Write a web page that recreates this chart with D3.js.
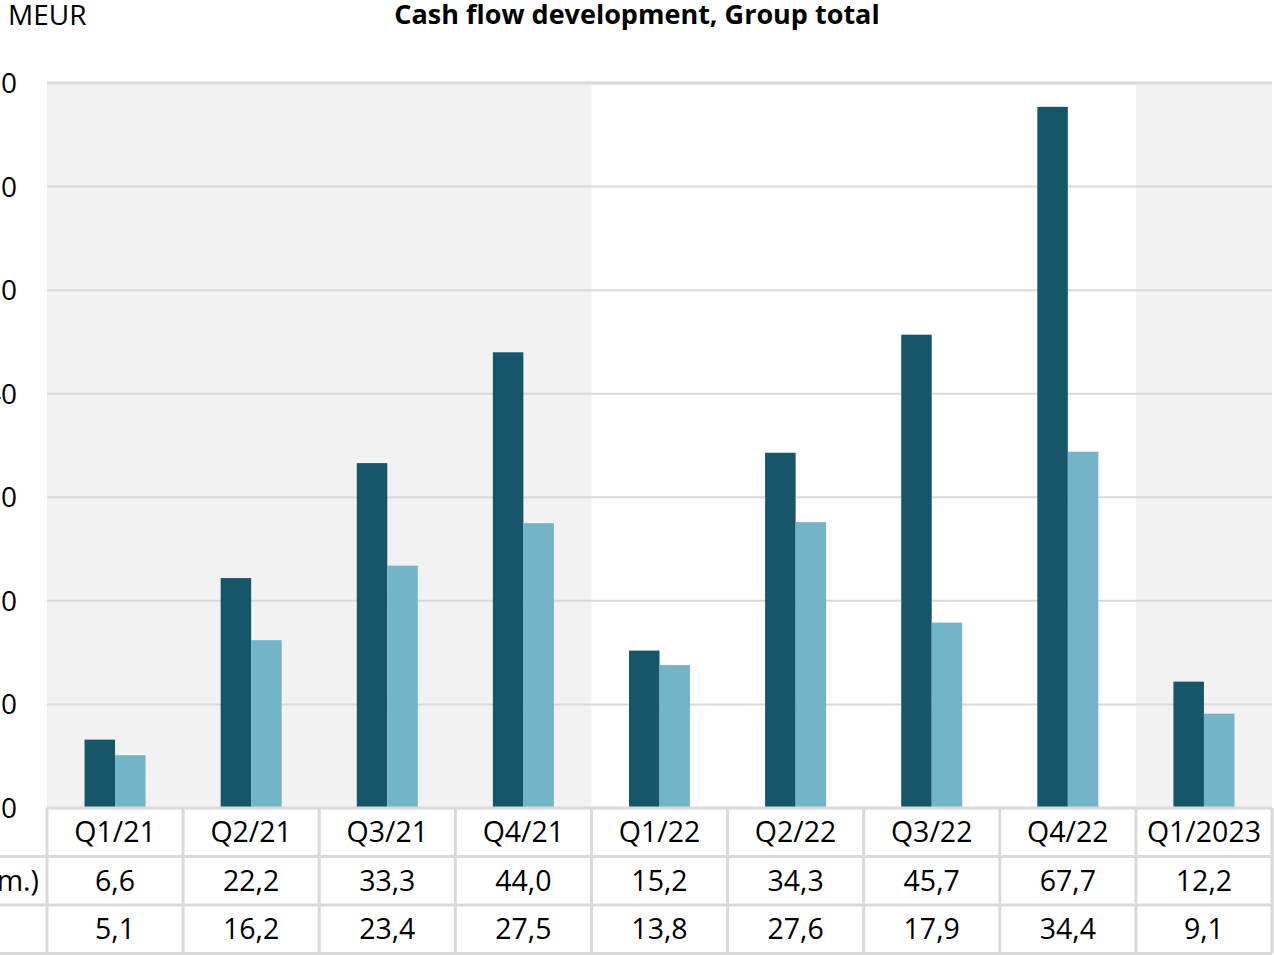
<!DOCTYPE html>
<meta charset="utf-8">
<head>
<style>
  body { margin: 0; background: #fff; overflow: hidden; }
  svg text { font-family: "Open Sans", sans-serif; fill: #000; }
</style>
</head>
<body>
<script src="https://d3js.org/d3.v7.min.js"></script>
<script>
// data
var quarters = ["Q1/21", "Q2/21", "Q3/21", "Q4/21", "Q1/22", "Q2/22", "Q3/22", "Q4/22", "Q1/2023"];
var operating = [6.6, 22.2, 33.3, 44.0, 15.2, 34.3, 45.7, 67.7, 12.2];
var freeCash = [5.1, 16.2, 23.4, 27.5, 13.8, 27.6, 17.9, 34.4, 9.1];
var rowLabels = ["Operating cash flow (EUR m.)", "Free cash flow (EUR m.)"];
var yTicks = [0, 10, 20, 30, 40, 50, 60, 70];
// shaded year bands: first and last quarter of each shaded year
var shaded = [["Q1/21", "Q4/21"], ["Q1/2023", "Q1/2023"]];

var W = 1274, H = 955;
var plotLeft = 47, plotRight = 1272, plotTop = 83, base = 808, rowH = 48.5;

var svg = d3.select("body").append("svg")
    .attr("width", W).attr("height", H);

var x = d3.scaleBand().domain(quarters).range([plotLeft, plotRight]);
var inner = d3.scaleBand().domain(["op", "fcf"]).range([0, 61])
var y = d3.scaleLinear().domain([0, 70]).range([base, plotTop]);

// shaded background bands
svg.selectAll("rect.band")
  .data(shaded)
  .join("rect")
    .attr("class", "band")
    .attr("x", d => x(d[0]))
    .attr("width", d => x(d[1]) + x.bandwidth() - x(d[0]))
    .attr("y", plotTop)
    .attr("height", base - plotTop)
    .attr("fill", "#f2f2f2");

// gridlines
svg.append("g")
  .selectAll("line")
  .data(yTicks.filter(t => t > 0))
  .join("line")
    .attr("x1", plotLeft).attr("x2", plotRight)
    .attr("y1", d => y(d)).attr("y2", d => y(d))
    .attr("stroke", "#d9d9d9")
    .attr("stroke-width", d => d == 70 ? 3 : 2);

// y labels (the left edge of the picture is cut off)
svg.append("g")
  .selectAll("text")
  .data(yTicks)
  .join("text")
    .attr("x", 17)
    .attr("y", d => y(d) + 10)
    .attr("text-anchor", "end")
    .style("font-size", "28px")
    .text(d => d);

// bars
var groups = svg.append("g").selectAll("g")
  .data(quarters)
  .join("g")
    .attr("transform", d => "translate(" + (x(d) + x.bandwidth() / 2 - 30.5) + ",0)");

groups.append("rect")
    .attr("x", inner("op"))
    .attr("width", inner.bandwidth())
    .attr("y", (d, i) => y(operating[i]))
    .attr("height", (d, i) => base - y(operating[i]))
    .attr("fill", "#175669");

groups.append("rect")
    .attr("x", inner("fcf"))
    .attr("width", inner.bandwidth())
    .attr("y", (d, i) => y(freeCash[i]))
    .attr("height", (d, i) => base - y(freeCash[i]))
    .attr("fill", "#73b4c8");

// data table
var table = svg.append("g");
var rowsY = [base, base + rowH, base + 2 * rowH, base + 3 * rowH];

table.selectAll("line.h")
  .data(rowsY)
  .join("line")
    .attr("class", "h")
    .attr("x1", (d, i) => i == 0 ? plotLeft : 0)
    .attr("x2", plotRight)
    .attr("y1", d => d).attr("y2", d => d)
    .attr("stroke", "#d9d9d9").attr("stroke-width", 3);

table.selectAll("line.v")
  .data(quarters.map(q => x(q)).concat([plotRight]))
  .join("line")
    .attr("class", "v")
    .attr("x1", d => d).attr("x2", d => d)
    .attr("y1", base).attr("y2", rowsY[3])
    .attr("stroke", "#d9d9d9").attr("stroke-width", 3);

var cols = [quarters, operating.map(v => v.toFixed(1).replace(".", ",")), freeCash.map(v => v.toFixed(1).replace(".", ","))];
cols.forEach(function(vals, r) {
  table.append("g").selectAll("text")
    .data(vals)
    .join("text")
      .attr("x", (d, i) => x(quarters[i]) + x.bandwidth() / 2)
      .attr("y", rowsY[r] + rowH / 2 + 10)
      .attr("text-anchor", "middle")
      .style("font-size", "28.5px")
      .text(d => d);
});

table.selectAll("text.rl")
  .data(rowLabels)
  .join("text")
    .attr("class", "rl")
    .attr("x", (d, i) => i == 0 ? 39 : -30)
    .attr("y", (d, i) => rowsY[i + 1] + rowH / 2 + 10)
    .attr("text-anchor", "end")
    .style("font-size", "28.5px")
    .text(d => d);

// unit and title
svg.append("text")
    .attr("x", 8).attr("y", 25)
    .style("font-size", "28px")
    .text("MEUR");

svg.append("text")
    .attr("x", 637).attr("y", 24)
    .attr("text-anchor", "middle")
    .style("font-size", "27px")
    .style("font-weight", "bold")
    .text("Cash flow development, Group total");
</script>
</body>
